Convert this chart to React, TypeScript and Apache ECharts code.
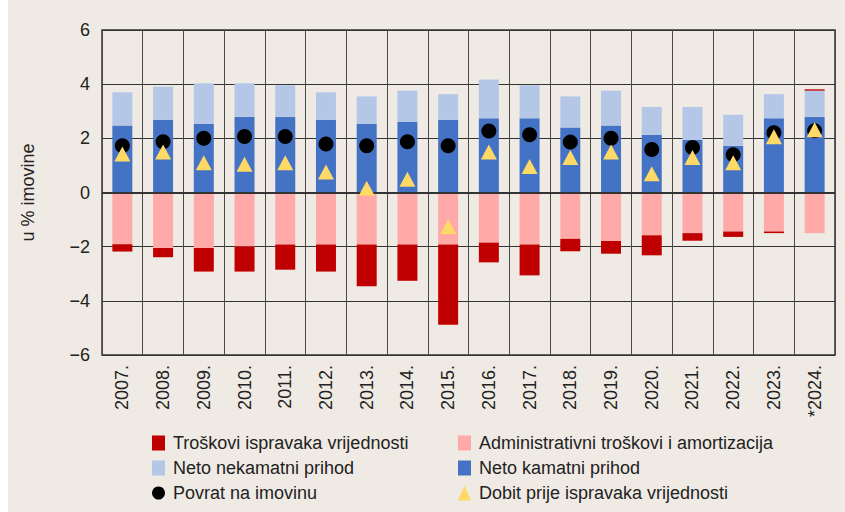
import React, { useEffect, useRef } from "react";
import * as echarts from "echarts";

const categories = ["2007.", "2008.", "2009.", "2010.", "2011.", "2012.", "2013.", "2014.", "2015.", "2016.", "2017.", "2018.", "2019.", "2020.", "2021.", "2022.", "2023.", "*2024."];
const netoKamatni = [2.47, 2.68, 2.54, 2.8, 2.8, 2.68, 2.54, 2.61, 2.68, 2.74, 2.74, 2.4, 2.47, 2.13, 1.94, 1.73, 2.74, 2.8];
const netoNekamatni = [1.23, 1.23, 1.49, 1.23, 1.16, 1.02, 1.01, 1.15, 0.95, 1.43, 1.22, 1.15, 1.29, 1.03, 1.22, 1.14, 0.89, 0.96];
const administrativni = [-1.91, -2.05, -2.05, -1.99, -1.92, -1.92, -1.92, -1.92, -1.92, -1.85, -1.92, -1.71, -1.79, -1.58, -1.5, -1.44, -1.44, -1.5];
const troskoviIspravaka = [-0.27, -0.34, -0.87, -0.93, -0.93, -1.0, -1.54, -1.34, -2.96, -0.73, -1.14, -0.46, -0.47, -0.74, -0.28, -0.2, -0.06, 0.05];
const povratNaImovinu = [1.73, 1.87, 2.0, 2.07, 2.07, 1.79, 1.73, 1.87, 1.73, 2.27, 2.13, 1.86, 2.0, 1.59, 1.66, 1.39, 2.21, 2.28];
const dobitPrije = [1.42, 1.5, 1.1, 1.04, 1.1, 0.76, 0.16, 0.49, -1.26, 1.5, 0.96, 1.29, 1.5, 0.69, 1.29, 1.1, 2.06, 2.32];

const FONT = "'Liberation Sans', Arial, sans-serif";

export default function App() {
  const ref = useRef<HTMLDivElement>(null);
  useEffect(() => {
    if (!ref.current) return;
    const chart = echarts.init(ref.current, null, { renderer: "svg" });
    const legendCommon = {
      orient: "vertical",
      top: 429,
      itemWidth: 13,
      itemHeight: 15,
      itemGap: 7,
      selectedMode: false,
      textStyle: { fontFamily: FONT, fontSize: 18, color: "#222", padding: [0, 0, 0, 3] },
    };
    chart.setOption({
      animation: false,
      backgroundColor: "#efebe4",
      textStyle: { fontFamily: FONT },
      grid: { left: 94, right: 10, top: 30, bottom: 157, show: true, borderColor: "#333", borderWidth: 1.5 },
      legend: [
        { ...legendCommon, left: 139, data: [
          { name: "Troškovi ispravaka vrijednosti", icon: "rect" },
          { name: "Neto nekamatni prihod", icon: "rect" },
          { name: "Povrat na imovinu", icon: "circle" },
        ] },
        { ...legendCommon, left: 445, data: [
          { name: "Administrativni troškovi i amortizacija", icon: "rect" },
          { name: "Neto kamatni prihod", icon: "rect" },
          { name: "Dobit prije ispravaka vrijednosti", icon: "triangle" },
        ] },
      ],
      xAxis: {
        type: "category",
        data: categories,
        boundaryGap: true,
        axisLine: { show: false },
        axisTick: { show: false },
        splitLine: { show: true, lineStyle: { color: "#4a4a4a", width: 1 } },
        axisLabel: { rotate: 90, fontSize: 18, color: "#222", margin: 10, fontFamily: FONT, interval: 0 },
      },
      yAxis: {
        type: "value",
        min: -6,
        max: 6,
        interval: 2,
        name: "u % imovine",
        nameLocation: "middle",
        nameRotate: 90,
        nameGap: 65,
        nameTextStyle: { fontSize: 18, color: "#222", fontFamily: FONT },
        axisLine: { show: false },
        axisTick: { show: false },
        splitLine: { show: true, lineStyle: { color: "#333", width: 1 } },
        axisLabel: {
          fontSize: 18,
          color: "#222",
          margin: 12,
          fontFamily: FONT,
          formatter: (v: number) => String(v).replace("-", "\u2212"),
        },
      },
      series: [
        {
          name: "Neto kamatni prihod",
          type: "bar",
          stack: "a",
          barWidth: 20,
          data: netoKamatni,
          itemStyle: { color: "#4472c4" },
          markLine: {
            silent: true,
            symbol: "none",
            label: { show: false },
            lineStyle: { color: "#333", width: 2, type: "solid" },
            data: [{ yAxis: 0 }],
          },
        },
        { name: "Neto nekamatni prihod", type: "bar", stack: "a", barWidth: 20, data: netoNekamatni, itemStyle: { color: "#b4c7e7" } },
        { name: "Administrativni troškovi i amortizacija", type: "bar", stack: "a", barWidth: 20, data: administrativni, itemStyle: { color: "#ffa9a9" } },
        { name: "Troškovi ispravaka vrijednosti", type: "bar", stack: "a", barWidth: 20, data: troskoviIspravaka, itemStyle: { color: "#c00000" } },
        { name: "Povrat na imovinu", type: "scatter", symbol: "circle", symbolSize: 15, data: povratNaImovinu, itemStyle: { color: "#000", opacity: 1 }, z: 5 },
        { name: "Dobit prije ispravaka vrijednosti", type: "scatter", symbol: "triangle", symbolSize: [16, 15], data: dobitPrije, itemStyle: { color: "#ffd966", opacity: 1 }, z: 6 },
      ],
    });
    return () => chart.dispose();
  }, []);
  return <div ref={ref} style={{ position: "fixed", left: 8, top: 0, width: 837, height: 512 }} />;
}
